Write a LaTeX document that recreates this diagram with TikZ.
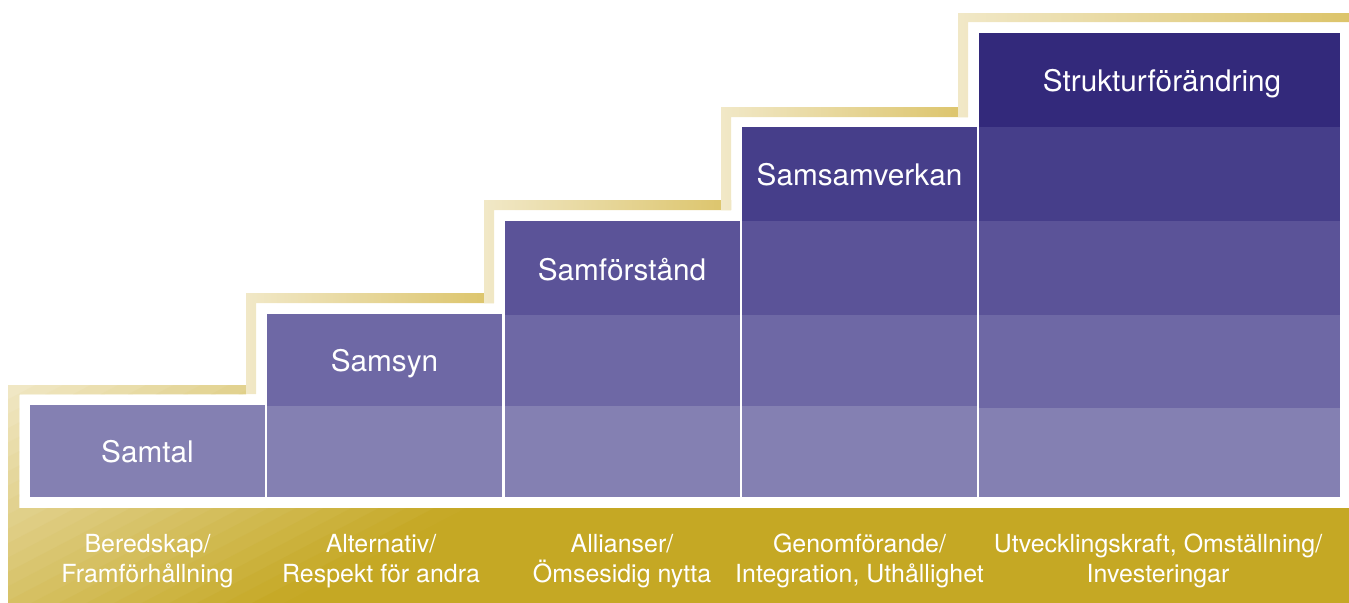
\documentclass[tikz,border=0pt]{standalone}
\usepackage{fontspec}
\setmainfont{TeX Gyre Heros}
\definecolor{goldpale}{HTML}{F1E8C7}
\definecolor{goldmid}{HTML}{DCC46A}
\definecolor{golddark}{HTML}{C5A824}
\definecolor{pA}{HTML}{8480B2}
\definecolor{pB}{HTML}{6E68A5}
\definecolor{pC}{HTML}{5B5398}
\definecolor{pD}{HTML}{463E8A}
\definecolor{pE}{HTML}{33297B}
\tikzset{
  stepband/.style={left color=goldpale, right color=goldmid},
  titlelbl/.style={text=white, font=\fontsize{22.3pt}{26pt}\selectfont, inner sep=0pt, anchor=base},
  baselbl/.style={text=white, font=\fontsize{18.7pt}{22.5pt}\selectfont, align=center, inner sep=0pt},
}
\begin{document}
\begin{tikzpicture}[x=0.75pt, y=-0.75pt]
\useasboundingbox (0,0) rectangle (1349,603);
% gold base: left strip, first tread, bottom band (diagonal gradient built from bands)
\begin{scope}
\clip (8,603) -- (8,385) -- (246,385) -- (246,394) -- (19,394) -- (19,508) -- (1349,508) -- (1349,603) -- cycle;
\fill[golddark] (0,380) rectangle (1349,603);
\foreach \i in {0,...,24} {
  \pgfmathsetmacro\ca{4*\i}
  \pgfmathsetmacro\cb{4*\i+4.6}
  \pgfmathtruncatemacro\pc{4*\i+2}
  \fill[golddark!\pc!goldpale] ({8+\ca/0.145},385) -- ({8+\cb/0.145},385) -- ({8+(\cb-60.6)/0.145},603) -- ({8+(\ca-60.6)/0.145},603) -- cycle;
}
\end{scope}
% risers and treads
\shade[stepband] (246,394) -- (246,293) -- (494,293) -- (494,303) -- (256,303) -- (256,394) -- cycle;
\shade[stepband] (484,303) -- (484,200) -- (731,200) -- (731,210) -- (494,210) -- (494,303) -- cycle;
\shade[stepband] (721,210) -- (721,107) -- (968,107) -- (968,117) -- (731,117) -- (731,210) -- cycle;
\shade[stepband] (958,117) -- (958,13) -- (1349,13) -- (1349,22) -- (968,22) -- (968,117) -- cycle;
% purple columns
\def\ya{497}\def\yb{406}\def\yc{315}\def\yd{221}\def\ye{127}\def\yf{33}
% column 1
\fill[pA] (30,405) rectangle (265,\ya);
% column 2
\fill[pA] (267,\yb) rectangle (502,\ya);
\fill[pB] (267,314) rectangle (502,\yb);
% column 3
\fill[pA] (504.5,\yb) rectangle (740,\ya);
\fill[pB] (504.5,\yc) rectangle (740,\yb);
\fill[pC] (504.5,\yd) rectangle (740,\yc);
% column 4
\fill[pA] (742,\yb) rectangle (977,\ya);
\fill[pB] (742,\yc) rectangle (977,\yb);
\fill[pC] (742,\yd) rectangle (977,\yc);
\fill[pD] (742,\ye) rectangle (977,\yd);
% column 5
\fill[pA] (979,408) rectangle (1340,\ya);
\fill[pB] (979,\yc) rectangle (1340,408);
\fill[pC] (979,\yd) rectangle (1340,\yc);
\fill[pD] (979,\ye) rectangle (1340,\yd);
\fill[pE] (979,\yf) rectangle (1340,\ye);
% titles
\node[titlelbl] (t1) at (147.5,462) {Samtal};
\node[titlelbl] (t2) at (384.5,371) {Samsyn};
\node[titlelbl] (t3) at (622,280) {Samförstånd};
\node[titlelbl] (t4) at (859.5,185) {Samsamverkan};
\node[titlelbl] (t5) at (1162,91) {Strukturförändring};
% bottom labels
\node[baselbl] (b1) at (147.5,561) {Beredskap/\\Framförhållning};
\node[baselbl] (b2) at (381,561) {Alternativ/\\Respekt för andra};
\node[baselbl] (b3) at (622,561) {Allianser/\\Ömsesidig nytta};
\node[baselbl] (b4) at (859.5,561) {Genomförande/\\Integration, Uthållighet};
\node[baselbl] (b5) at (1158,561) {Utvecklingskraft, Omställning/\\Investeringar};
\end{tikzpicture}
\end{document}
